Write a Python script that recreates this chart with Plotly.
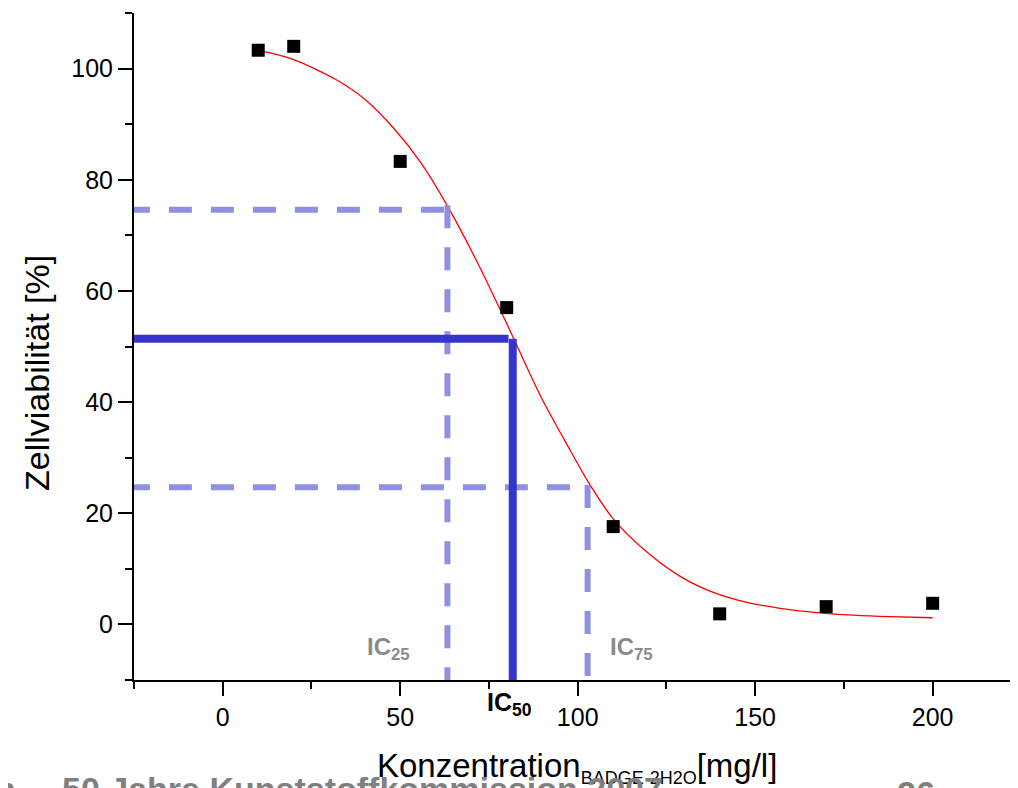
import plotly.graph_objects as go

# ---- data ----
conc = [10, 20, 50, 80, 110, 140, 170, 200]
viability = [103.3, 104.0, 83.3, 57.0, 17.6, 1.9, 3.2, 3.8]

fit_x = [10, 20, 32, 40, 48, 56, 64, 72, 79, 83, 90, 98, 103, 110, 119, 129, 138, 148, 157, 166, 176, 185, 200]
fit_y = [103.3, 101.6, 98.0, 94.5, 89.4, 82.9, 74.5, 64.8, 55.5, 50.0, 40.5, 31.2, 25.6, 19.0, 13.3, 8.6, 5.8, 3.9, 2.9, 2.2, 1.7, 1.45, 1.2]

ic25_x, ic25_y = 63.3, 74.6
ic50_x, ic50_y = 81.7, 51.4
ic75_x, ic75_y = 102.8, 24.7

x_range = [-25, 226.3]
y_range = [-10, 110]
x_ticks = [0, 50, 100, 150, 200]
y_ticks = [0, 20, 40, 60, 80, 100]

FONT = "Liberation Sans, Arial, Helvetica, sans-serif"
DASH_COL = "#8F8FE3"
SOLID_COL = "#3535CC"

# page body adds an 8px offset; margins compensate so the plot lands where the reference has it
ML, MR, MT, MB = 126, 0, 5, 116
PW = 1018 - ML - MR
PH = 788 - MT - MB


def px_x(px):  # screen pixel -> paper x
    return (px - 8 - ML) / PW


def px_y(py):  # screen pixel -> paper y
    return (788 - MB - (py - 8)) / PH


fig = go.Figure()

fig.add_trace(go.Scatter(x=fit_x, y=fit_y, mode="lines",
                         line=dict(color="#FF0000", width=1.3, shape="spline", smoothing=0.8),
                         showlegend=False, hoverinfo="skip"))
fig.add_trace(go.Scatter(x=conc, y=viability, mode="markers",
                         marker=dict(symbol="square", size=13, color="black", line=dict(width=0)),
                         showlegend=False))

x_left = x_range[0] - 2
y_bottom = y_range[0] - 1
dash = "23px,19px"
shapes = [
    # IC25
    dict(type="line", xref="x", yref="y", x0=x_left, y0=ic25_y, x1=ic25_x, y1=ic25_y,
         line=dict(color=DASH_COL, width=6, dash=dash)),
    dict(type="line", xref="x", yref="y", x0=ic25_x, y0=ic25_y + 0.8, x1=ic25_x, y1=y_bottom,
         line=dict(color=DASH_COL, width=6, dash=dash)),
    # IC75
    dict(type="line", xref="x", yref="y", x0=x_left, y0=ic75_y, x1=ic75_x, y1=ic75_y,
         line=dict(color=DASH_COL, width=6, dash=dash)),
    dict(type="line", xref="x", yref="y", x0=ic75_x, y0=ic75_y + 0.4, x1=ic75_x, y1=y_bottom,
         line=dict(color=DASH_COL, width=6, dash=dash)),
    # IC50
    dict(type="line", xref="x", yref="y", x0=x_left, y0=ic50_y, x1=ic50_x - 1.2, y1=ic50_y,
         line=dict(color=SOLID_COL, width=8)),
    dict(type="line", xref="x", yref="y", x0=ic50_x, y0=ic50_y, x1=ic50_x, y1=y_bottom,
         line=dict(color=SOLID_COL, width=8)),
]

annotations = [
    dict(text="<b>IC<sub>25</sub></b>", xref="x", yref="y", x=46.8, y=-4.3, showarrow=False,
         font=dict(family=FONT, size=24, color="#8A8A8A")),
    dict(text="<b>IC<sub>75</sub></b>", xref="x", yref="y", x=115.2, y=-4.3, showarrow=False,
         font=dict(family=FONT, size=24, color="#8A8A8A")),
    dict(text="<b>IC<sub>50</sub></b>", xref="x", yref="paper", x=80.8, y=px_y(704), yanchor="middle",
         showarrow=False, font=dict(family=FONT, size=25, color="black")),
    # axis titles
    dict(text="Zellviabilität [%]", xref="paper", yref="paper", x=px_x(37), y=px_y(373), textangle=-90,
         xanchor="center", yanchor="middle",
         showarrow=False, font=dict(family=FONT, size=34, color="black")),
    dict(text="Konzentration<sub><span style='font-size:18px'>BADGE·2H2O</span></sub>[mg/l]",
         xref="paper", yref="paper", x=px_x(577), y=px_y(745),
         xanchor="center", yanchor="top", showarrow=False, font=dict(family=FONT, size=33, color="black")),
    # background footer text (partially cut off)
    dict(text="<b>Symposium</b>", xref="paper", yref="paper", x=px_x(18), y=px_y(768),
         xanchor="right", yanchor="top", showarrow=False, font=dict(family=FONT, size=34, color="#808080")),
    dict(text="<b>50 Jahre Kunststoffkommission 2007</b>", xref="paper", yref="paper", x=px_x(60), y=px_y(768),
         xanchor="left", yanchor="top", showarrow=False, font=dict(family=FONT, size=34, color="#808080")),
    dict(text="<b>26</b>", xref="paper", yref="paper", x=px_x(895), y=px_y(772),
         xanchor="left", yanchor="top", showarrow=False, font=dict(family=FONT, size=34, color="#808080")),
]

axis_common = dict(showline=True, linewidth=2, linecolor="black", ticks="outside", ticklen=14, tickwidth=2,
                   tickcolor="black", showgrid=False, zeroline=False,
                   tickfont=dict(family=FONT, size=25, color="black"))

fig.update_layout(
    width=1018, height=788,
    margin=dict(l=ML, r=MR, t=MT, b=MB, autoexpand=False),
    paper_bgcolor="white", plot_bgcolor="white",
    xaxis=dict(range=x_range, tickvals=x_ticks, **axis_common,
               minor=dict(ticks="outside", ticklen=7, tickwidth=2, tickcolor="black", dtick=25, tick0=0)),
    yaxis=dict(range=y_range, tickvals=y_ticks, **axis_common,
               minor=dict(ticks="outside", ticklen=7, tickwidth=2, tickcolor="black", dtick=10, tick0=0)),
    shapes=shapes,
    annotations=annotations,
    showlegend=False,
)

fig.write_html("out.html")
